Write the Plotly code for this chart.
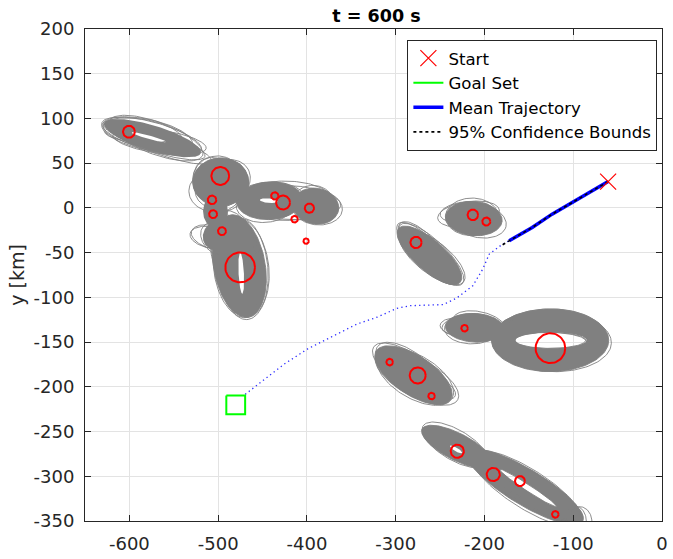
import numpy as np
import plotly.graph_objects as go

# ---------------- data ----------------
x_ticks = [-600, -500, -400, -300, -200, -100, 0]
x_tick_labels = ['-600', '-500', '-400', '-300', '-200', '-100', '0']
y_ticks = [200, 150, 100, 50, 0, -50, -100, -150, -200, -250, -300, -350]
y_tick_labels = ['200', '150', '100', '50', '0', '-50', '-100', '-150', '-200', '-250', '-300', '-350']

# dense uncertainty regions: (cx, cy, semi-axis a, semi-axis b, angle deg)
cluster_fills = [
    (-574, 78, 57, 14, -17),    # A
    (-497, 29, 32, 27, 0),      # B
    (-503, -4, 14, 18, 0),      # B lower
    (-498, -30, 20, 17, 30),    # C lobe
    (-476, -65, 58, 29, 100),   # C
    (-390, 2, 26, 20, -10),     # D right
    (-442, 8, 37, 21, 3),       # D left
    (-212, -12, 32, 19, -5),    # E
    (-262, -53, 46, 17, -41),   # F
    (-211, -134, 33, 16, -3),   # G
    (-126, -148, 66, 35, 0),    # H
    (-280, -187, 50, 22, -33),  # I
    (-231, -267, 44, 15, -27),  # J upper
    (-154, -312, 75, 20, -31),  # J lower
]
cluster_holes = [
    (-578, 79, 20, 2, -15),
    None, None, None,
    (-474, -73, 23, 3, 93),
    None,
    (-443, 8, 10, 2.5, -5),
    None, None, None,
    (-125, -148, 40, 9, 0),
    None,
    (-232, -270, 8, 2, -30),
    (-151, -313, 38, 3.5, -33),
]
# individual ellipse outlines around the dense regions
outline_ellipses = [
    (-575, 80, 58, 16, -15), (-572, 76, 60, 13, -18), (-580, 82, 52, 17, -12),
    (-566, 72, 62, 12, -19), (-585, 84, 45, 15, -10), (-570, 78, 56, 18, -20),
    (-566, 74, 53, 13, -8), (-590, 82, 38, 9, -5),
    (-497, 29, 31, 27, 0), (-495, 27, 33, 25, 30), (-500, 30, 29, 28, -20),
    (-505, 30, 27, 22, 110), (-492, 24, 30, 22, 60), (-500, 20, 25, 33, 95),
    (-476, -65, 58, 29, 100), (-478, -62, 60, 27, 103), (-474, -67, 56, 31, 97),
    (-480, -60, 55, 25, 108), (-472, -68, 57, 28, 95), (-505, -33, 26, 13, 165),
    (-500, -35, 22, 16, 140), (-508, -33, 24, 12, 170),
    (-442, 8, 37, 21, 3), (-440, 10, 38, 19, 0), (-445, 6, 35, 22, 8),
    (-390, 2, 26, 20, -10), (-388, 0, 28, 19, -5), (-392, 4, 24, 21, -15),
    (-420, 6, 58, 19, -3), (-425, 8, 54, 22, 0),
    (-212, -12, 32, 19, -5), (-218, -7, 35, 14, 8), (-207, -14, 32, 19, -12),
    (-214, -10, 30, 21, 0), (-220, -5, 30, 12, 5),
    (-262, -53, 46, 17, -41), (-264, -51, 47, 15, -45), (-259, -55, 45, 18, -38),
    (-266, -49, 43, 16, -48), (-260, -52, 48, 16, -43),
    (-211, -134, 33, 16, -3), (-222, -131, 26, 11, 8), (-206, -130, 30, 14, -12),
    (-214, -135, 31, 17, 0), (-228, -133, 22, 10, -5),
    (-126, -148, 66, 35, 0), (-128, -146, 64, 33, 2), (-124, -149, 67, 34, -2),
    (-126, -148, 40, 9, 0), (-125, -147, 44, 11, 1), (-127, -149, 42, 10, -1),
    (-126, -148, 62, 31, 0),
    (-280, -187, 50, 22, -33), (-282, -185, 52, 20, -35), (-278, -189, 48, 24, -30),
    (-284, -183, 46, 21, -38), (-276, -190, 52, 21, -28), (-270, -195, 40, 14, -22),
    (-231, -267, 44, 15, -27), (-233, -265, 42, 17, -30),
    (-154, -312, 75, 20, -31), (-156, -310, 77, 18, -30), (-152, -314, 73, 22, -32),
    (-151, -313, 38, 3.5, -33), (-150, -313, 42, 6, -32), (-160, -305, 70, 16, -28),
    (-96, -352, 11, 18, 0), (-92, -350, 13, 16, 5), (-100, -348, 10, 14, 0),
]

# red circles (centre x, centre y, radius) in km
circle_x = [-600.5, -497.6, -506.9, -505.7, -495.7, -475.2, -436.2, -426.9, -413.9, -397.2,
            -400.9, -213.1, -197.9, -277.1, -222.4, -125.7, -306.8, -275.2, -259.6,
            -230.6, -190.1, -160.0, -120.2]
circle_y = [85.1, 35.7, 9.0, -7.0, -26.0, -66.5, 13.4, 6.0, -12.6, -0.3,
            -37.1, -7.8, -15.2, -38.6, -134.5, -156.8, -172.4, -187.3, -210.3,
            -272.0, -298.0, -305.4, -342.6]
circle_r = [6.7, 10.0, 4.8, 4.5, 4.5, 16.7, 4.1, 7.8, 3.7, 5.2,
            3.0, 5.9, 4.5, 6.3, 3.7, 16.7, 3.7, 9.0, 3.7,
            7.4, 7.4, 5.6, 3.7]

# start and goal
start_x = [-60.7]
start_y = [29.4]
goal_x = [-490.8, -469.6, -469.6, -490.8, -490.8]
goal_y = [-209.6, -209.6, -230.8, -230.8, -209.6]

# mean trajectory (flown part) and confidence bounds
mean_x = [-60.7, -92.0, -123.8, -146.2, -160.0, -172.2]
mean_y = [29.4, 11.5, -7.0, -21.9, -29.5, -36.8]
conf_x = [-60.7, -92.0, -123.8, -146.2, -160.0, -172.2, -181.5]
conf_y = [29.4, 11.5, -7.0, -21.9, -29.5, -36.8, -42.4]

# planned mean trajectory (dotted) towards the goal
plan_x = [-168.5, -179.6, -194.6, -201.9, -213.1, -231.7, -246.5, -283.8, -298.6,
          -320.9, -343.3, -373.0, -399.0, -425.0, -447.3, -469.6]
plan_y = [-34.9, -40.5, -51.6, -68.4, -87.0, -101.0, -108.1, -109.3, -112.2,
          -122.2, -129.7, -144.5, -157.5, -174.2, -190.9, -208.5]


# ---------------- helpers ----------------
def ellipse(cx, cy, a, b, ang, n=120, reverse=False):
    t = np.linspace(0, 2 * np.pi, n)
    if reverse:
        t = t[::-1]
    th = np.deg2rad(ang)
    ex = a * np.cos(t)
    ey = b * np.sin(t)
    return cx + ex * np.cos(th) - ey * np.sin(th), cy + ex * np.sin(th) + ey * np.cos(th)


GRAY = '#808080'
FONT = 'DejaVu Sans'
fig = go.Figure()

# filled dense regions (with holes)
for fe, he in zip(cluster_fills, cluster_holes):
    xs, ys = ellipse(*fe)
    if he is not None:
        hx, hy = ellipse(*he, reverse=True)
        xs = np.concatenate([xs, hx])
        ys = np.concatenate([ys, hy])
    fig.add_trace(go.Scatter(x=xs, y=ys, mode='lines', fill='toself', fillcolor=GRAY,
                             line=dict(width=0, color=GRAY), showlegend=False, hoverinfo='skip'))

# outlines
ox, oy = [], []
for e in outline_ellipses:
    xs, ys = ellipse(*e)
    ox += list(xs) + [None]
    oy += list(ys) + [None]
fig.add_trace(go.Scatter(x=ox, y=oy, mode='lines', line=dict(width=0.9, color=GRAY),
                         showlegend=False, hoverinfo='skip'))

# red circles
cx_all, cy_all = [], []
for x0, y0, r in zip(circle_x, circle_y, circle_r):
    xs, ys = ellipse(x0, y0, r, r, 0, n=60)
    cx_all += list(xs) + [None]
    cy_all += list(ys) + [None]
fig.add_trace(go.Scatter(x=cx_all, y=cy_all, mode='lines', line=dict(width=2, color='#ff0000'),
                         showlegend=False, hoverinfo='skip'))

# planned trajectory
fig.add_trace(go.Scatter(x=plan_x, y=plan_y, mode='lines',
                         line=dict(width=1.3, color='#2b2bff', dash='1.3px,3.2px'),
                         showlegend=False, hoverinfo='skip'))

# mean trajectory
fig.add_trace(go.Scatter(x=mean_x, y=mean_y, mode='lines', name='Mean Trajectory',
                         line=dict(width=3.5, color='#0000ff'), legendrank=3, hoverinfo='skip'))
# confidence bounds
fig.add_trace(go.Scatter(x=conf_x, y=conf_y, mode='lines', name='95% Confidence Bounds',
                         line=dict(width=1.6, color='black', dash='dot'), legendrank=4,
                         hoverinfo='skip'))
# goal set
fig.add_trace(go.Scatter(x=goal_x, y=goal_y, mode='lines', name='Goal Set',
                         line=dict(width=2, color='#00ff00'), legendrank=2, hoverinfo='skip'))
# start
fig.add_trace(go.Scatter(x=start_x, y=start_y, mode='markers', name='Start',
                         marker=dict(symbol='x-thin', size=16, color='#ff0000',
                                     line=dict(width=1.2, color='#ff0000')),
                         legendrank=1, hoverinfo='skip'))

axis_common = dict(showgrid=True, gridcolor='#e3e3e3', gridwidth=1, zeroline=False,
                   showline=True, linecolor='#262626', linewidth=1, mirror='ticks',
                   ticks='inside', ticklen=6, tickcolor='#262626',
                   tickfont=dict(family=FONT, size=18, color='#262626'))

fig.update_layout(
    width=673, height=559,
    margin=dict(l=85, r=5, t=29, b=36),
    paper_bgcolor='white', plot_bgcolor='white',
    title=dict(text='<b>t = 600 s</b>', x=376.5 / 673, xanchor='center',
               y=1 - 15.5 / 559, yanchor='middle',
               font=dict(family=FONT, size=17.5, color='black')),
    legend=dict(x=0.992, xanchor='right', y=0.978, yanchor='top', bgcolor='white',
                bordercolor='#262626', borderwidth=1, tracegroupgap=0,
                font=dict(family=FONT, size=16.6, color='black')),
    xaxis=dict(range=[-650, 0], tickvals=x_ticks, ticktext=x_tick_labels,
               ticklabelstandoff=6, **axis_common),
    yaxis=dict(range=[-350, 200], tickvals=y_ticks, ticktext=y_tick_labels,
               ticklabelstandoff=6,
               title=dict(text='y [km]', standoff=3, font=dict(family=FONT, size=19, color='#262626')),
               **axis_common),
)

fig.write_html('out.html', config={'displayModeBar': False})
